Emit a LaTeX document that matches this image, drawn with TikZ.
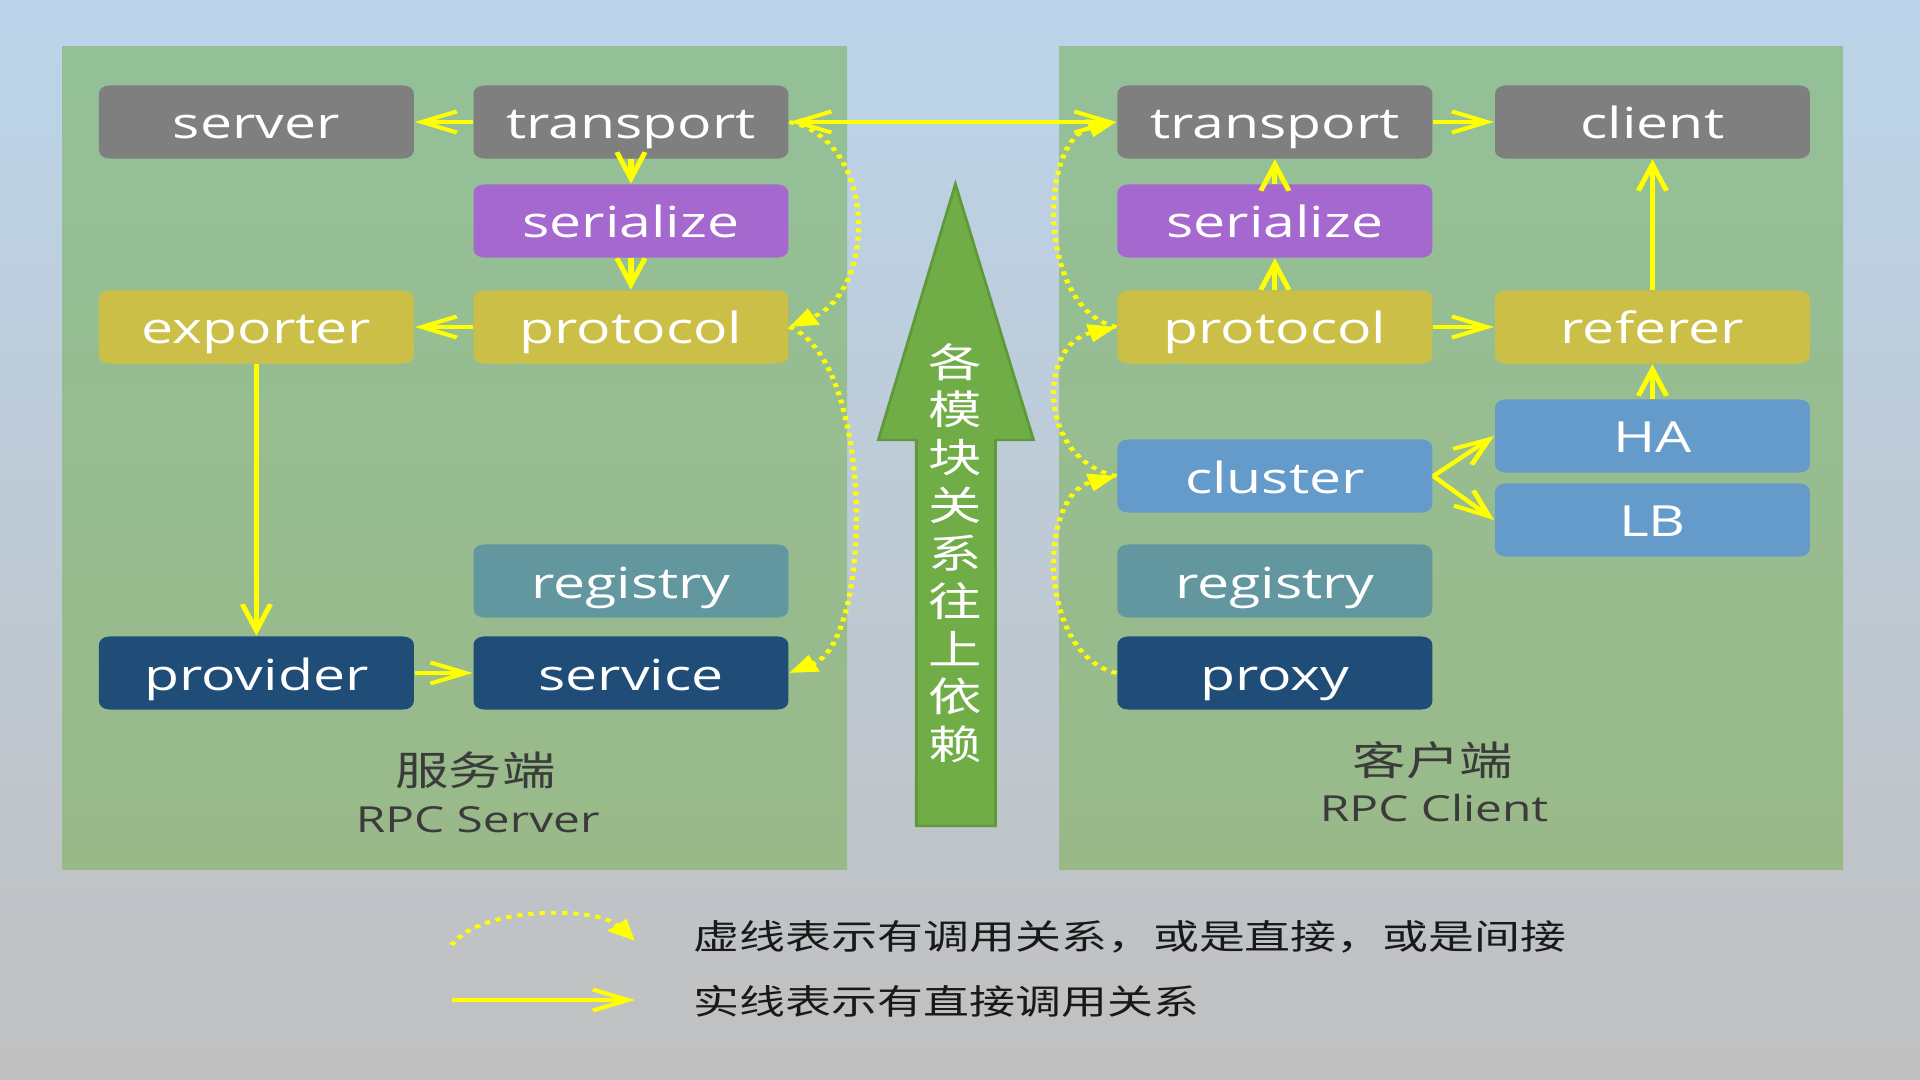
\documentclass[tikz,border=0pt]{standalone}
\usepackage{fontspec}
\setmainfont{Open Sans}
\newfontfamily\cjk{Noto Sans CJK SC}
\usetikzlibrary{arrows.meta}

\definecolor{bgtop}{HTML}{BCD4EA}
\definecolor{bgbot}{HTML}{C0C0C0}
\definecolor{pantop}{HTML}{94C098}
\definecolor{panbot}{HTML}{9AB989}
\definecolor{modgray}{HTML}{7F7F7F}
\definecolor{modpurple}{HTML}{A468CF}
\definecolor{modolive}{HTML}{CCBF47}
\definecolor{modblue}{HTML}{659BCB}
\definecolor{modteal}{HTML}{62979F}
\definecolor{modnavy}{HTML}{1F4D78}
\definecolor{upgreen}{HTML}{70AD47}
\definecolor{upedge}{HTML}{5E9A3A}
\definecolor{labgray}{HTML}{3B3B3B}
\definecolor{callyellow}{HTML}{FFFF00}

\tikzset{
  >={Straight Barb[length=7.5pt,width=6pt]},
  mod/.style={rounded corners=0.08cm, minimum width=2.36cm, minimum height=0.73cm,
    inner sep=0pt, text height=0.375cm, text depth=0.035cm, text=white,
    font=\fontsize{12.2pt}{14pt}\selectfont},
  graymod/.style={mod, fill=modgray},
  purplemod/.style={mod, fill=modpurple},
  olivemod/.style={mod, fill=modolive},
  bluemod/.style={mod, fill=modblue},
  tealmod/.style={mod, fill=modteal},
  navymod/.style={mod, fill=modnavy},
  call/.style={callyellow, line width=1.1pt, ->},
  maycall/.style={callyellow, line width=1.1pt, dash pattern=on 1.1pt off 1.3pt,
    -{Triangle[length=6pt,width=5pt]}},
  side/.style={text=labgray},
}

\begin{document}
\begin{tikzpicture}[x=0.01cm, y=-0.01cm]
  \useasboundingbox (0,0) rectangle (1920,1080);
  \shade[top color=bgtop, bottom color=bgbot] (0,0) rectangle (1920,1080);
  \shade[top color=pantop, bottom color=panbot] (62,47) rectangle (847,870);
  \shade[top color=pantop, bottom color=panbot] (1059,47) rectangle (1843,870);

  % the slide is stretched 4:3 -> 16:9
  \begin{scope}[x=0.0075cm, y=-0.01cm, transform canvas={xscale=1.3333}]
  \filldraw[fill=upgreen, draw=upedge, line width=0.6pt]
    (954,184) -- (1032,440) -- (994,440) -- (994,826) -- (915,826) -- (915,440) -- (877,440) -- cycle;
  \node[text=white, font=\cjk\fontsize{11.4pt}{0.478cm}\selectfont, align=center] (upword)
    at (954,553) {各\\模\\块\\关\\系\\往\\上\\依\\赖};

  % server side
  \node[graymod]   (srv)   at (256,122) {server};
  \node[graymod]   (stran) at (630,122) {transport};
  \node[purplemod] (sser)  at (630,221) {serialize};
  \node[olivemod]  (sexp)  at (256,327) {exporter};
  \node[olivemod]  (sprot) at (630,327) {protocol};
  \node[tealmod]   (sreg)  at (630,581) {registry};
  \node[navymod]   (prov)  at (256,673) {provider};
  \node[navymod]   (svc)   at (630,673) {service};

  % client side
  \node[graymod]   (ctran) at (1273,122) {transport};
  \node[graymod]   (cli)   at (1650,122) {client};
  \node[purplemod] (cser)  at (1273,221) {serialize};
  \node[olivemod]  (cprot) at (1273,327) {protocol};
  \node[olivemod]  (ref)   at (1650,327) {referer};
  \node[bluemod]   (ha)    at (1650,436) {HA};
  \node[bluemod]   (lb)    at (1650,520) {LB};
  \node[bluemod]   (clu)   at (1273,476) {cluster};
  \node[tealmod]   (creg)  at (1273,581) {registry};
  \node[navymod]   (prx)   at (1273,673) {proxy};

  \draw[call] (stran) -- (srv);
  \draw[call] (stran) -- (sser);
  \draw[call] (sser) -- (sprot);
  \draw[call] (sprot) -- (sexp);
  \draw[call] (sexp) -- (prov);
  \draw[call] (prov) -- (svc);
  \draw[call, <->] (stran) -- (ctran);

  \draw[call] (cser) -- (ctran);
  \draw[call] (cprot) -- (cser);
  \draw[call] (ctran) -- (cli);
  \draw[call] (cprot) -- (ref);
  \draw[call] (ref) -- (cli);
  \draw[call] (ha) -- (ref);
  \draw[call] (clu.east) -- (ha.west);
  \draw[call] (clu.east) -- (lb.west);

  \draw[maycall] (stran.east) .. controls (876,140) and (876,290) .. (sprot.east);
  \draw[maycall] (sprot.east) .. controls (873,360) and (873,640) .. (svc.east);
  \draw[maycall] (cprot.west) .. controls (1036,310) and (1036,140) .. (ctran.west);
  \draw[maycall] (clu.west) .. controls (1036,460) and (1036,345) .. (cprot.west);
  \draw[maycall] (prx.west) .. controls (1036,655) and (1036,495) .. (clu.west);

  \node[side, font=\cjk\fontsize{11.4pt}{13pt}\selectfont] (srvcn) at (475,770) {服务端};
  \node[side, font=\fontsize{10.2pt}{12pt}\selectfont] (srven) at (477,820) {RPC Server};
  \node[side, font=\cjk\fontsize{11.4pt}{13pt}\selectfont] (clicn) at (1431,760) {客户端};
  \node[side, font=\fontsize{10.2pt}{12pt}\selectfont] (clien) at (1432,808) {RPC Client};

  % legend
  \coordinate (d0) at (451,945);
  \coordinate (d1) at (634,941);
  \draw[maycall] (d0) .. controls (480,906) and (595,906) .. (d1);
  \coordinate (s0) at (451,1000);
  \coordinate (s1) at (634,1000);
  \draw[call] (s0) -- (s1);
  \node[anchor=west, text=black!90, font=\cjk\fontsize{9.8pt}{12pt}\selectfont] (lgdot)
    at (676,937) {虚线表示有调用关系，或是直接，或是间接};
  \node[anchor=west, text=black!90, font=\cjk\fontsize{9.8pt}{12pt}\selectfont] (lgline)
    at (676,1001) {实线表示有直接调用关系};
  \end{scope}
\end{tikzpicture}
\end{document}
